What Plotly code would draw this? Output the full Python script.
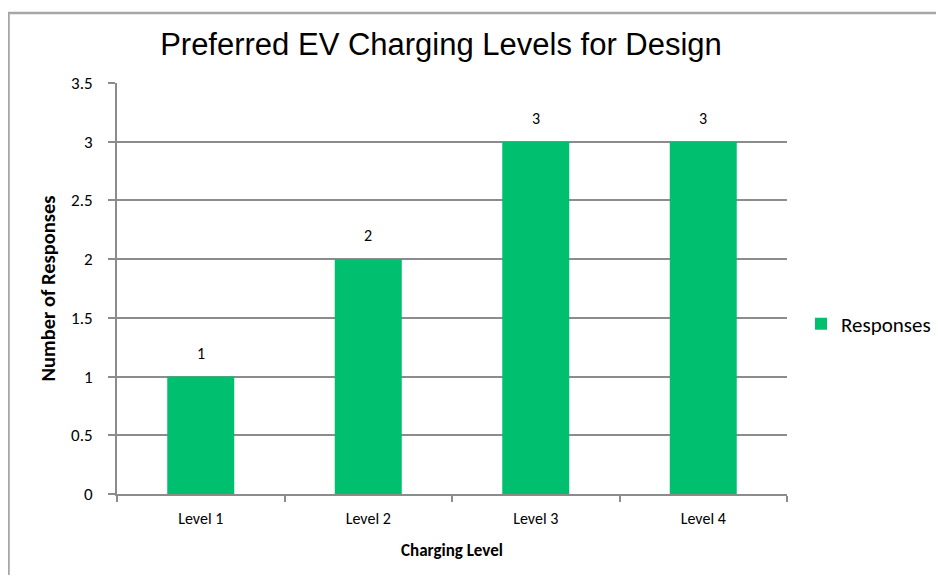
import plotly.graph_objects as go

categories = ["Level 1", "Level 2", "Level 3", "Level 4"]
responses = [1, 2, 3, 3]
y_ticks = [0, 0.5, 1, 1.5, 2, 2.5, 3, 3.5]
y_tick_labels = ["0", "0.5", "1", "1.5", "2", "2.5", "3", "3.5"]

# browser body margin of 8px shifts the figure; design in figure coordinates
W, H = 936, 567
L, R, T, B = 109, 157, 75, 81
pw, ph = W - L - R, H - T - B

def px_x(x):
    return (x - L) / pw

def px_y(y):
    return (H - B - y) / ph

body_font = "Carlito, Lato, 'Open Sans', sans-serif"

fig = go.Figure()
fig.add_trace(go.Bar(
    x=categories, y=responses, name="Responses",
    marker=dict(color="#00BF6F", line=dict(width=0)),
))

annotations = [
    dict(x=c, y=v, xref="x", yref="y", text=str(v), showarrow=False,
         yanchor="bottom", yshift=12,
         font=dict(family=body_font, size=16, color="#000000"))
    for c, v in zip(categories, responses)
]

fig.update_layout(
    width=W, height=H,
    margin=dict(l=L, r=R, t=T, b=B, autoexpand=False),
    paper_bgcolor="white", plot_bgcolor="white",
    bargap=0.6,
    showlegend=True,
    annotations=annotations,
    title=dict(text="Preferred EV Charging Levels for Design",
               x=433 / W, xanchor="center", xref="container",
               y=1 - 36 / H, yanchor="middle", yref="container",
               font=dict(family="Liberation Sans, Arial, sans-serif", size=31, color="#000000")),
    legend=dict(x=px_x(793), y=px_y(316), xanchor="left", yanchor="middle",
                font=dict(family=body_font, size=21, color="#000000"),
                bgcolor="rgba(0,0,0,0)", itemwidth=30),
    xaxis=dict(
        type="category",
        showline=True, linecolor="#8c8c8c", linewidth=2,
        ticks="outside", tickson="boundaries", ticklen=6, tickcolor="#8c8c8c", tickwidth=2,
        ticklabelstandoff=9,
        showgrid=False,
        tickfont=dict(family=body_font, size=16, color="#000000"),
        title=dict(text="<b>Charging Level</b>", standoff=17,
                   font=dict(family=body_font, size=17, color="#000000")),
    ),
    yaxis=dict(
        range=[0, 3.5], tickvals=y_ticks, ticktext=y_tick_labels,
        showline=True, linecolor="#8c8c8c", linewidth=2,
        ticks="outside", ticklen=7, tickcolor="#8c8c8c", tickwidth=2,
        ticklabelstandoff=12,
        showgrid=True, gridcolor="#8c8c8c", gridwidth=1.5,
        zeroline=False,
        tickfont=dict(family=body_font, size=17, color="#000000"),
        title=dict(text="<b>Number of Responses</b>", standoff=10,
                   font=dict(family=body_font, size=20.5, color="#000000")),
    ),
    shapes=[
        dict(type="line", xref="paper", yref="paper",
             x0=px_x(0), x1=px_x(W + 5), y0=px_y(5), y1=px_y(5),
             line=dict(color="#a6a6a6", width=2.5)),
        dict(type="line", xref="paper", yref="paper",
             x0=px_x(0.5), x1=px_x(0.5), y0=px_y(5), y1=px_y(H + 5),
             line=dict(color="#a6a6a6", width=2.5)),
    ],
)

fig.write_html("out.html")
